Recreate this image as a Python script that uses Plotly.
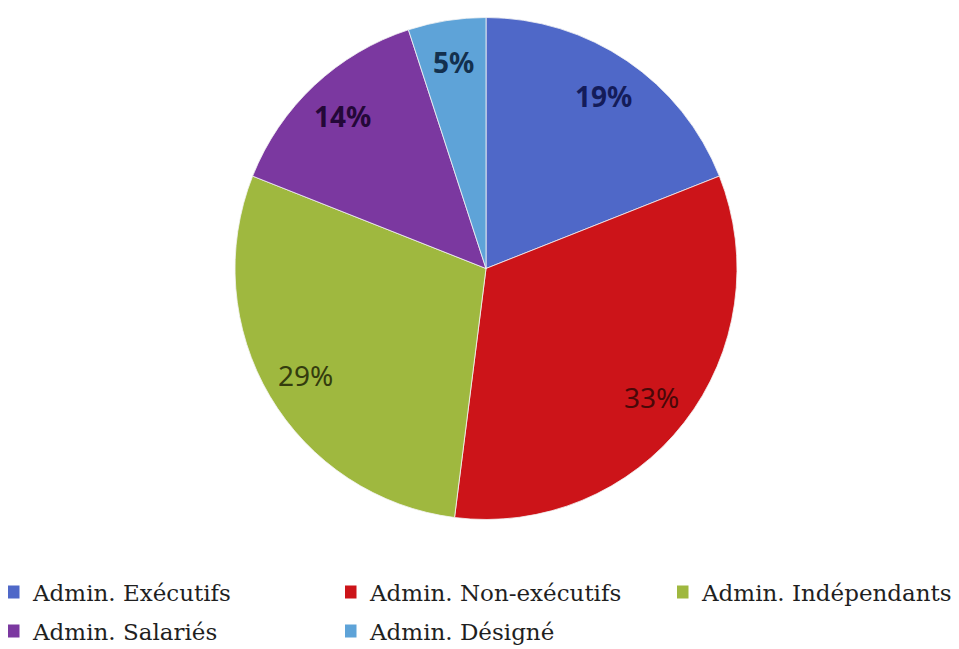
import math
import plotly.graph_objects as go

categories = ["Admin. Exécutifs", "Admin. Non-exécutifs", "Admin. Indépendants",
              "Admin. Salariés", "Admin. Désigné"]
values = [19, 33, 29, 14, 5]
labels = ["19%", "33%", "29%", "14%", "5%"]
colors = ["#4f68c8", "#cc1419", "#9fb83f", "#7b38a0", "#5ea3d8"]
label_colors = ["#141c5a", "#4a0808", "#343c0e", "#240838", "#13304e"]
label_bold = [True, False, False, True, True]

W, H = 959, 649
# pie domain in pixels (left, right, top, bottom)
pl, pr, pt, pb = 227, 729, 9.5, 511.5
dom_x = [pl / W, pr / W]
dom_y = [1 - pb / H, 1 - pt / H]

fig = go.Figure(go.Pie(
    labels=categories, values=values, sort=False, direction="clockwise",
    rotation=0, marker=dict(colors=colors, line=dict(color="#f4f4f4", width=0.8)),
    textinfo="none", hoverinfo="label+percent", showlegend=False,
    domain=dict(x=dom_x, y=dom_y),
))

# legend entries (one legend per entry so they sit in a 3-column grid)
legend_names = ["legend", "legend2", "legend3", "legend4", "legend5"]
for cat, col, lg in zip(categories, colors, legend_names):
    fig.add_trace(go.Scatter(
        x=[None], y=[None], mode="markers", name=cat, legend=lg,
        marker=dict(symbol="square", size=13, color=col),
        hoverinfo="skip",
    ))

# percentage labels placed along slice mid-angles
cx = (dom_x[0] + dom_x[1]) / 2
cy = (dom_y[0] + dom_y[1]) / 2
rx = (dom_x[1] - dom_x[0]) / 2 * (249 / 251)
ry = (dom_y[1] - dom_y[0]) / 2 * (249 / 251)
total = sum(values)
cum = 0
for v, t, c, b in zip(values, labels, label_colors, label_bold):
    theta = 2 * math.pi * (cum + v / 2) / total
    cum += v
    fig.add_annotation(
        x=cx + 0.84 * rx * math.sin(theta), y=cy + 0.84 * ry * math.cos(theta),
        xref="paper", yref="paper", xanchor="center", yanchor="middle",
        text=t, showarrow=False,
        font=dict(family="Noto Sans", size=28, color=c,
                  weight="bold" if b else "normal"),
    )

leg_font = dict(family="DejaVu Serif", size=23, color="#1f1f1f")
col_x = [0, 337, 669]
row_y = [584, 623]
grid = [(0, 0), (1, 0), (2, 0), (0, 1), (1, 1)]
legend_layout = {}
for lg, (ci, ri) in zip(legend_names, grid):
    legend_layout[lg] = dict(
        orientation="v", x=col_x[ci] / W, xanchor="left",
        y=1 - row_y[ri] / H, yanchor="middle", itemwidth=30, indentation=-15,
        font=leg_font, bgcolor="rgba(0,0,0,0)",
    )

fig.update_layout(
    width=W, height=H, margin=dict(l=0, r=0, t=0, b=0),
    paper_bgcolor="white", plot_bgcolor="white",
    xaxis=dict(visible=False), yaxis=dict(visible=False),
    showlegend=True,
    **legend_layout,
)

fig.write_html("out.html")
